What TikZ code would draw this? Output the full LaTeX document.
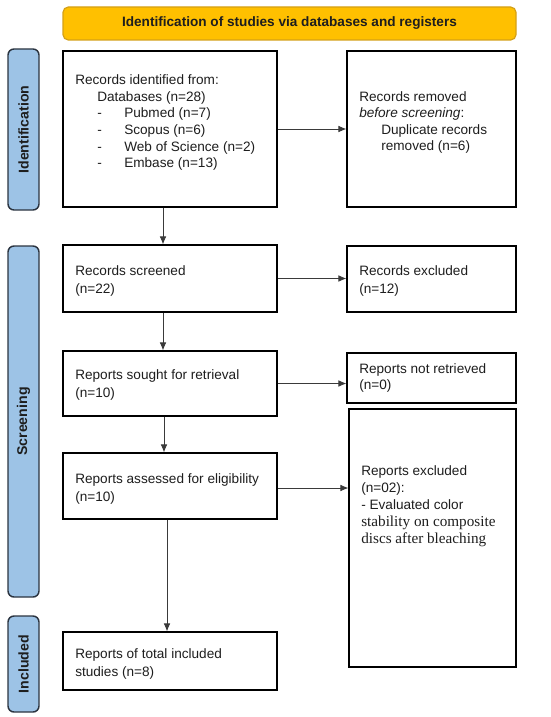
\documentclass[tikz,border=0pt]{standalone}
\usepackage{fontspec}
\setmainfont{Liberation Sans}
\newfontfamily\serifface{Liberation Serif}
\usetikzlibrary{arrows.meta}
\definecolor{bannerfill}{HTML}{FFC000}
\definecolor{bannerline}{HTML}{D4A017}
\definecolor{sidefill}{HTML}{9DC3E6}
\definecolor{sideline}{HTML}{2B3440}
\definecolor{txt}{HTML}{1E1E1E}
\definecolor{arrcol}{HTML}{3A3A3A}
\tikzset{
  box/.style={draw=black, line width=0.9pt, fill=white, inner sep=0pt},
  banner/.style={draw=bannerline, line width=0.9pt, fill=bannerfill, rounded corners=4pt,
    minimum width=339.75pt, minimum height=24.75pt, inner sep=0pt,
    font=\fontsize{10.2}{12}\selectfont\bfseries, text=txt},
  side/.style={draw=sideline, line width=1.1pt, fill=sidefill, rounded corners=4.5pt,
    minimum width=23.25pt, inner sep=0pt, font=\fontsize{10.6}{12}\selectfont\bfseries,
    text=txt},
  btext/.style={anchor=north west, inner sep=0pt, align=left, text=txt,
    font=\fontsize{10.2}{13.5}\selectfont},
  arr/.style={draw=arrcol, line width=0.6pt, -{Latex[length=6pt,width=5pt]}}
}
\begin{document}
\begin{tikzpicture}[x=0.75pt,y=-0.75pt]
\useasboundingbox (0,0) rectangle (550,717);
% banner
\node[banner] (title) at (289.5,23.5) {Identification of studies via databases and registers};
% side bars
\node[side, minimum height=120.75pt] (sideI) at (23.5,129.5) {\rotatebox{90}{Identification}};
\node[side, minimum height=263.25pt] (sideS) at (23.5,421.5) {\rotatebox{90}{Screening}};
\node[side, minimum height=72pt] (sideInc) at (23.5,664) {\rotatebox{90}{Included}};
% left column boxes
\node[box, minimum width=160.5pt, minimum height=117pt] (b1) at (170,129) {};
\node[box, minimum width=160.5pt, minimum height=50.25pt] (b2) at (170,278.5) {};
\node[box, minimum width=160.5pt, minimum height=48.75pt] (b3) at (170,383.5) {};
\node[box, minimum width=160.5pt, minimum height=49.5pt] (b4) at (170,486) {};
\node[box, minimum width=160.5pt, minimum height=43.5pt] (b5) at (170,661) {};
% right column boxes
\node[box, minimum width=126.75pt, minimum height=117pt] (r1) at (431.5,129) {};
\node[box, minimum width=126.75pt, minimum height=49.5pt] (r2) at (431.5,279) {};
\node[box, minimum width=126.75pt, minimum height=37.5pt] (r3) at (431.5,378) {};
\node[box, minimum width=125.25pt, minimum height=193.5pt] (r4) at (432.5,538) {};
% texts
\node[btext, font=\fontsize{10.2}{12.45}\selectfont] (t1) at (75,74.5)
 {Records identified from:\\
  \hspace*{16.5pt}Databases (n=28)\\
  \hspace*{16.5pt}\makebox[20.25pt][l]{-}Pubmed (n=7)\\
  \hspace*{16.5pt}\makebox[20.25pt][l]{-}Scopus (n=6)\\
  \hspace*{16.5pt}\makebox[20.25pt][l]{-}Web of Science (n=2)\\
  \hspace*{16.5pt}\makebox[20.25pt][l]{-}Embase (n=13)};
\node[btext, font=\fontsize{10.2}{12.25}\selectfont] (tr1) at (359,91.5)
 {Records removed\\
  \textit{before screening}:\\
  \hspace*{16.5pt}Duplicate records\\
  \hspace*{16.5pt}removed (n=6)};
\node[btext] (t2) at (75,265.5) {Records screened\\(n=22)};
\node[btext] (tr2) at (359,265.5) {Records excluded\\(n=12)};
\node[btext] (t3) at (75,369.5) {Reports sought for retrieval\\(n=10)};
\node[btext, font=\fontsize{10.2}{12}\selectfont] (tr3) at (359,363.5) {Reports not retrieved\\(n=0)};
\node[btext] (t4) at (75,473.5) {Reports assessed for eligibility\\(n=10)};
\node[btext, font=\fontsize{10.2}{12.75}\selectfont] (tr4) at (361,465.5)
 {Reports excluded\\(n=02):\\- Evaluated color\\
  {\serifface\fontsize{11.4}{13.5}\selectfont stability on composite}\\
  {\serifface\fontsize{11.4}{13.5}\selectfont discs after bleaching}};
\node[btext] (t5) at (75,648.5) {Reports of total included\\studies (n=8)};
% arrows
\draw[arr] (b1.east) -- (r1.west);
\draw[arr] (b2.east) -- (b2.east -| r2.west);
\draw[arr] (b3.east) -- (b3.east -| r3.west);
\draw[arr] ([yshift=-1.5pt]b4.east) -- ([yshift=-1.5pt]b4.east -| r4.west);
\draw[arr] ([xshift=-5.25pt]b1.south) -- ([xshift=-5.25pt]b1.south |- b2.north);
\draw[arr] ([xshift=-5.25pt]b2.south) -- ([xshift=-5.25pt]b2.south |- b3.north);
\draw[arr] ([xshift=-4.5pt]b3.south) -- ([xshift=-4.5pt]b3.south |- b4.north);
\draw[arr] ([xshift=-2.25pt]b4.south) -- ([xshift=-2.25pt]b4.south |- b5.north);
\end{tikzpicture}
\end{document}
